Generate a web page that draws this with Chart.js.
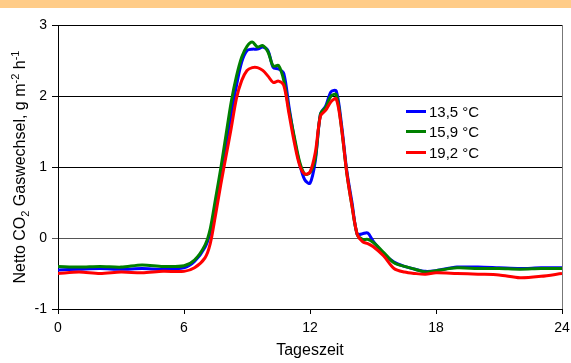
<!DOCTYPE html>
<html>
<head>
<meta charset="utf-8">
<script src="https://cdn.jsdelivr.net/npm/chart.js@4.4.1/dist/chart.umd.min.js"></script>
<style>
  body { margin: 0; background: #fff; font-family: "Liberation Sans", Arial, sans-serif; }
  #wrap { position: relative; width: 571px; height: 363px; }
  #band { position: absolute; left: 0; top: 0; width: 571px; height: 8px; background: #ffcc88; }
  #ytitle { position: absolute; left: -130px; top: 157px; width: 300px; text-align: center;
    font-size: 16px; line-height: 20px; transform: rotate(-90deg); white-space: nowrap; }
  #ytitle sub, #ytitle sup { font-size: 11px; line-height: 0; }
  #legend { position: absolute; left: 406px; top: 101px; font-size: 15px; }
  .row { height: 20.5px; display: flex; align-items: center; }
  .row span.ln { display: inline-block; width: 20px; height: 3px; margin-right: 3px; }
</style>
</head>
<body>
<div id="wrap">
  <canvas id="myChart" width="571" height="363"></canvas>
  <div id="band"></div>
  <div id="ytitle">Netto CO<sub>2</sub> Gaswechsel, g m<sup>-2</sup> h<sup>-1</sup></div>
  <div id="legend"></div>
</div>
<script>
// hours of the day
const hours = [0, 1, 2, 3, 4, 5, 6, 6.5, 7, 7.25, 7.5, 7.75, 8, 8.25, 8.5, 8.75, 9, 9.25, 9.5, 9.75,
  10, 10.25, 10.5, 10.75, 11, 11.25, 11.5, 11.75, 12, 12.25, 12.5, 12.75, 13, 13.25, 13.5, 13.75,
  14, 14.25, 14.5, 14.75, 15, 15.5, 16, 16.5, 17, 17.5, 18, 19, 20, 21, 22, 23, 24];

const t135 = [-0.45, -0.44, -0.43, -0.44, -0.43, -0.44, -0.42, -0.33, -0.13, 0.08, 0.45, 0.88, 1.32, 1.75, 2.15, 2.48, 2.64, 2.66, 2.66, 2.69,
  2.64, 2.40, 2.38, 2.32, 1.85, 1.40, 1.05, 0.82, 0.77, 1.08, 1.75, 1.86, 2.06, 2.07, 1.60, 0.95,
  0.50, 0.05, 0.06, 0.07, -0.04, -0.22, -0.34, -0.40, -0.44, -0.47, -0.46, -0.41, -0.41, -0.42, -0.43, -0.42, -0.42];

const t159 = [-0.40, -0.41, -0.40, -0.41, -0.38, -0.40, -0.39, -0.31, -0.10, 0.13, 0.55, 0.98, 1.45, 1.92, 2.28, 2.55, 2.70, 2.76, 2.69, 2.71,
  2.62, 2.42, 2.43, 2.22, 1.80, 1.43, 1.08, 0.90, 0.92, 1.12, 1.75, 1.84, 2.00, 2.02, 1.55, 0.92,
  0.45, 0.05, -0.02, -0.02, -0.06, -0.20, -0.35, -0.40, -0.44, -0.48, -0.46, -0.42, -0.43, -0.43, -0.44, -0.43, -0.43];

const t192 = [-0.50, -0.48, -0.50, -0.48, -0.49, -0.47, -0.47, -0.42, -0.28, -0.08, 0.32, 0.75, 1.15, 1.55, 1.97, 2.22, 2.36, 2.40, 2.40, 2.36,
  2.28, 2.19, 2.21, 2.15, 1.75, 1.35, 1.03, 0.90, 0.93, 1.20, 1.72, 1.80, 1.92, 1.96, 1.55, 0.92,
  0.45, 0.05, -0.05, -0.08, -0.12, -0.25, -0.43, -0.48, -0.50, -0.51, -0.49, -0.50, -0.51, -0.52, -0.56, -0.54, -0.50];

const seriesNames = ["13,5 °C", "15,9 °C", "19,2 °C"];
const seriesColors = ["#0000ff", "#008000", "#ff0000"];
const seriesValues = [t135, t159, t192];

const fontFam = '"Liberation Sans", Arial, sans-serif';

const datasets = seriesValues.map((vals, i) => ({
  label: seriesNames[i],
  data: hours.map((h, j) => ({ x: h, y: vals[j] })),
  borderColor: seriesColors[i],
  borderWidth: 3,
  pointRadius: 0,
  tension: 0.3,
  fill: false,
  order: 3 - i,
}));

const rightBorder = {
  id: "rightBorder",
  afterDraw(chart) {
    const a = chart.chartArea;
    const ctx = chart.ctx;
    ctx.save();
    ctx.strokeStyle = "#777";
    ctx.lineWidth = 1;
    ctx.beginPath();
    ctx.moveTo(a.right + 0.5, a.top);
    ctx.lineTo(a.right + 0.5, a.bottom);
    ctx.stroke();
    ctx.restore();
  }
};

const config = {
  type: "line",
  data: { datasets: datasets },
  options: {
    responsive: false,
    animation: false,
    layout: { padding: { top: 25, right: 0, bottom: 0, left: 0 } },
    plugins: { legend: { display: false }, tooltip: { enabled: false } },
    scales: {
      x: {
        type: "linear",
        min: 0,
        max: 24,
        afterFit: (s) => { s.height = 54; s.paddingRight = 9; },
        ticks: { stepSize: 6, color: "#000", padding: 6, font: { family: fontFam, size: 14 } },
        grid: { drawOnChartArea: false, drawTicks: true, tickLength: 5, color: "#000" },
        border: { color: "#000" },
        title: { display: true, text: "Tageszeit", color: "#000", padding: { top: 0, bottom: 3 },
          font: { family: fontFam, size: 16 } },
      },
      y: {
        min: -1,
        max: 3,
        afterFit: (s) => { s.width = 58; },
        ticks: { stepSize: 1, color: "#000", padding: 5, font: { family: fontFam, size: 14 } },
        grid: { color: (c) => (c.tick && c.tick.value === 0 ? "#555" : "#000"), tickLength: 6 },
        border: { color: "#000" },
      },
    },
  },
  plugins: [rightBorder],
};

const myChart = new Chart(document.getElementById("myChart"), config);

// legend in the plot
const legend = document.getElementById("legend");
for (let i = 0; i < seriesNames.length; i++) {
  const row = document.createElement("div");
  row.className = "row";
  row.innerHTML = '<span class="ln" style="background:' + seriesColors[i] + '"></span>' + seriesNames[i];
  legend.appendChild(row);
}
</script>
</body>
</html>
